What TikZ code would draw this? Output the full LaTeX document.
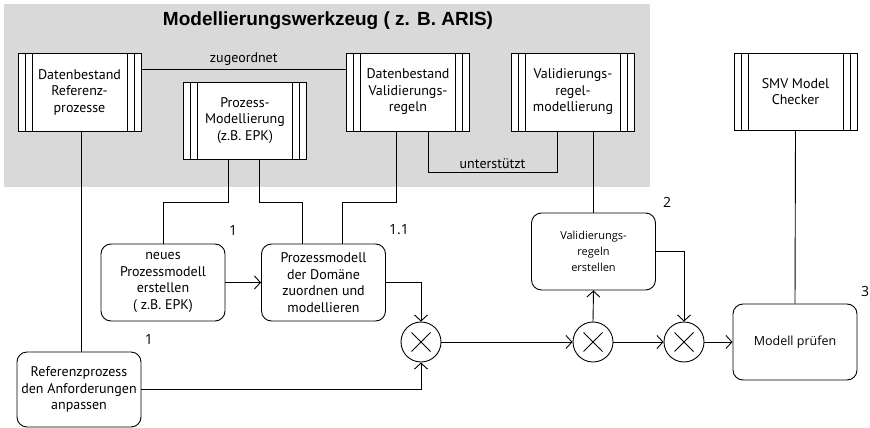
\documentclass[tikz,border=0pt]{standalone}
\usepackage{fontspec}
\setmainfont{PT Sans}
\newfontfamily\titlefont{Liberation Sans}
\newfontfamily\segfont{Open Sans}
\usepackage{xcolor}
\usepackage{tikz}
\usetikzlibrary{arrows.meta,shapes}

\begin{document}
\begin{tikzpicture}[x=1pt,y=-1pt,line width=0.9pt,
  flow/.style={-{Straight Barb[length=6pt,width=13pt]}},
  dbbox/.style={draw,fill=white,minimum width=123pt,minimum height=78pt,align=center,inner sep=0pt,
    font=\fontsize{14}{16.5}\selectfont,
    path picture={\draw[line width=0.9pt]
      ([xshift=7pt]path picture bounding box.north west)--([xshift=7pt]path picture bounding box.south west)
      ([xshift=14pt]path picture bounding box.north west)--([xshift=14pt]path picture bounding box.south west)
      ([xshift=-7pt]path picture bounding box.north east)--([xshift=-7pt]path picture bounding box.south east)
      ([xshift=-14pt]path picture bounding box.north east)--([xshift=-14pt]path picture bounding box.south east);}},
  procbox/.style={draw,rounded corners=10pt,minimum width=124pt,minimum height=77pt,align=center,inner sep=0pt,
    font=\fontsize{14}{16.7}\selectfont},
  xorc/.style={draw,circle,minimum size=40pt,inner sep=0pt,
    path picture={\draw[line width=0.9pt]
      ([shift={(-9.5pt,-9.5pt)}]path picture bounding box.center)--([shift={(9.5pt,9.5pt)}]path picture bounding box.center)
      ([shift={(-9.5pt,9.5pt)}]path picture bounding box.center)--([shift={(9.5pt,-9.5pt)}]path picture bounding box.center);}},
  num/.style={font=\segfont\fontsize{14}{16}\selectfont,inner sep=0pt}]
\useasboundingbox(0,0)rectangle(870,428);
\fill[gray!30](4,4)rectangle(650,187);
\node[font=\titlefont\bfseries\fontsize{19}{22}\selectfont](title)at(328,21){Modellierungswerkzeug ( z. B. ARIS)};

\node[dbbox](dbref)at(79.5,92){Datenbestand\\Referenz-\\prozesse};
\node[dbbox,minimum height=77pt](dbepk)at(245,120.5){Prozess-\\Modellierung\\(z.B. EPK)};
\node[dbbox](dbval)at(408,92){Datenbestand\\Validierungs-\\regeln};
\node[dbbox](dbmod)at(573,92){Validierungs-\\regel-\\modellierung};
\node[dbbox,minimum height=77pt](smv)at(795.5,91.5){SMV Model\\Checker};

\node[procbox](neu)at(163,282.5){neues\\Prozessmodell\\erstellen\\( z.B. EPK)};
\node[procbox](zuord)at(323.5,282.5){Prozessmodell\\der Domäne\\zuordnen und\\modellieren};
\node[procbox,minimum height=75pt](anp)at(79,389.5){Referenzprozess\\den Anforderungen\\anpassen};
\node[procbox,font=\segfont\fontsize{11}{16}\selectfont](valr)at(593.5,251.5){Validierungs-\\regeln\\erstellen};
\node[procbox,minimum height=76pt,font=\segfont\fontsize{12.5}{15}\selectfont](pruef)at(795,342){Modell prüfen};

\node[xorc](x1)at(421,342){};
\node[xorc](x2)at(593,342){};
\node[xorc](x3)at(684,342){};

\node[num](n1)at(233,231){1};
\node[num](n2)at(149,339){1};
\node[num](n3)at(399,230){1.1};
\node[num](n4)at(667,202){2};
\node[num](n5)at(865,291){3};

\draw([yshift=23pt]dbref.east)--([yshift=23pt]dbval.west)node[midway,above,font=\fontsize{14}{16}\selectfont]{zugeordnet};
\draw([xshift=1.5pt]dbref.south)--([xshift=1.5pt]dbref.south|-anp.north);
\draw([xshift=-17pt]dbepk.south)--++(0,43)-|(neu.north);
\draw([xshift=14pt]dbepk.south)--++(0,43)-|([xshift=-21.5pt]zuord.north);
\draw([xshift=-12pt]dbval.south)--++(0,71)-|([xshift=18.5pt]zuord.north);
\draw([xshift=20pt]dbval.south)--++(0,41)-|([xshift=-16pt]dbmod.south)node[pos=0.25,above,font=\fontsize{14}{16}\selectfont]{unterstützt};
\draw(valr.north)--(valr.north|-dbmod.south);
\draw(smv.south)--(pruef.north);

\draw[flow](neu.east)--(zuord.west);
\draw[flow](zuord.east)-|(x1.north);
\draw[flow](anp.east)-|(x1.south);
\draw[flow](x1.east)--(x2.west);
\draw[flow](x2.north)--(valr.south);
\draw[flow](valr.east)-|(x3.north);
\draw[flow](x2.east)--(x3.west);
\draw[flow](x3.east)--(pruef.west);
\end{tikzpicture}
\end{document}
